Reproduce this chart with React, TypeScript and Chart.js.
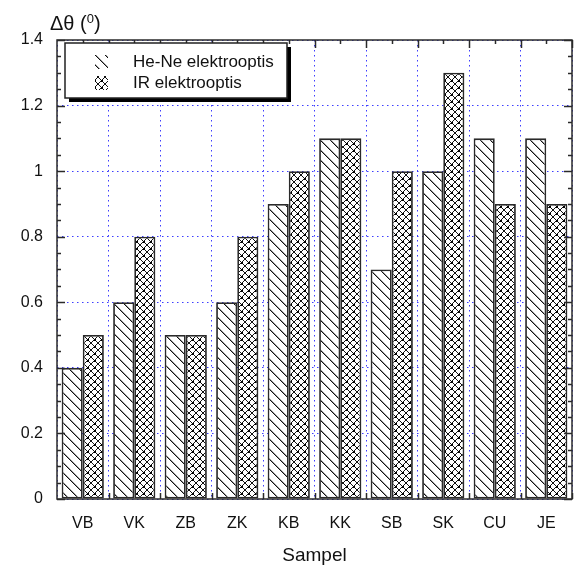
import React, { useEffect, useRef } from "react";
import { Chart, registerables } from "chart.js";
Chart.register(...registerables);

const categories = ["VB", "VK", "ZB", "ZK", "KB", "KK", "SB", "SK", "CU", "JE"];
const heNeValues = [0.4, 0.6, 0.5, 0.6, 0.9, 1.1, 0.7, 1.0, 1.1, 1.1];
const irValues = [0.5, 0.8, 0.5, 0.8, 1.0, 1.1, 1.0, 1.3, 0.9, 0.9];
const seriesLabels = ["He-Ne elektrooptis", "IR elektrooptis"];
const yMin = 0;
const yMax = 1.4;
const yStep = 0.2;
const yMinorStep = 0.05;
const yTitleMain = "Δθ (";
const yTitleSup = "0";
const yTitleEnd = ")";
const xTitle = "Sampel";

const FONT = "'Liberation Sans', Arial, sans-serif";

function makeHatch(ctx: CanvasRenderingContext2D): CanvasPattern {
  const s = 10;
  const c = document.createElement("canvas");
  c.width = s;
  c.height = s;
  const g = c.getContext("2d")!;
  g.fillStyle = "#fff";
  g.fillRect(0, 0, s, s);
  for (let i = 0; i < s; i++) {
    g.fillStyle = "#999";
    g.fillRect((i + 1) % s, i, 1, 1);
    g.fillStyle = "#111";
    g.fillRect(i, i, 1, 1);
  }
  return ctx.createPattern(c, "repeat")!;
}

function makeCross(ctx: CanvasRenderingContext2D): CanvasPattern {
  const s = 7;
  const c = document.createElement("canvas");
  c.width = s;
  c.height = s;
  const g = c.getContext("2d")!;
  g.fillStyle = "#fff";
  g.fillRect(0, 0, s, s);
  g.fillStyle = "#111";
  for (let i = 0; i < s; i++) {
    g.fillRect(i, i, 1, 1);
    g.fillRect(i, s - 1 - i, 1, 1);
  }
  g.fillStyle = "#000";
  g.fillRect(3, 3, 2, 2);
  return ctx.createPattern(c, "repeat")!;
}

export default function App() {
  const ref = useRef<HTMLCanvasElement | null>(null);

  useEffect(() => {
    const canvas = ref.current!;
    const ctx0 = canvas.getContext("2d")!;
    const hatch = makeHatch(ctx0);
    const cross = makeCross(ctx0);
    const patterns = [hatch, cross];

    const decor = {
      id: "decor",
      afterDraw(chart: any) {
        const { ctx, chartArea: a, scales } = chart;
        const y = scales.y;
        const x = scales.x;
        ctx.save();
        ctx.strokeStyle = "#2a2a2a";
        ctx.lineWidth = 1.5;
        const line = (x1: number, y1: number, x2: number, y2: number) => {
          ctx.beginPath();
          ctx.moveTo(x1, y1);
          ctx.lineTo(x2, y2);
          ctx.stroke();
        };
        const nMinor = Math.round((yMax - yMin) / yMinorStep);
        const perMajor = Math.round(yStep / yMinorStep);
        for (let i = 0; i <= nMinor; i++) {
          const v = yMin + i * yMinorStep;
          const py = Math.round(y.getPixelForValue(v)) + 0.5;
          const len = i % perMajor === 0 ? 8 : 4;
          line(a.left, py, a.left + len, py);
          line(a.right, py, a.right - len, py);
        }
        const half = (x.getPixelForValue(1) - x.getPixelForValue(0)) / 2;
        for (let i = 0; i < categories.length; i++) {
          const cx = Math.round(x.getPixelForValue(i)) + 0.5;
          line(cx, a.top, cx, a.top + 4);
          const bx = Math.round(x.getPixelForValue(i) + half) + 0.5;
          line(bx, a.top, bx, a.top + 8);
          line(bx, a.bottom, bx, a.bottom - 6);
        }
        ctx.strokeRect(a.left, a.top, a.right - a.left, a.bottom - a.top);

        // legend
        const lx = a.left + 8;
        const ly = a.top + 3;
        const lw = 222;
        const lh = 55;
        ctx.fillStyle = "#000";
        ctx.fillRect(lx + 4, ly + 4, lw, lh);
        ctx.fillStyle = "#fff";
        ctx.fillRect(lx, ly, lw, lh);
        ctx.lineWidth = 1.5;
        ctx.strokeStyle = "#222";
        ctx.strokeRect(lx, ly, lw, lh);
        ctx.font = `17px ${FONT}`;
        ctx.textBaseline = "middle";
        ctx.textAlign = "left";
        chart.data.datasets.forEach((ds: any, i: number) => {
          const cy = ly + 19 + i * 21;
          ctx.fillStyle = patterns[i];
          ctx.fillRect(lx + 30, cy - 7, 13, 14);
          ctx.fillStyle = "#111";
          ctx.fillText(ds.label, lx + 68, cy);
        });

        // y title
        ctx.fillStyle = "#111";
        ctx.textBaseline = "alphabetic";
        ctx.font = `20px ${FONT}`;
        let tx = 50;
        const ty = 30;
        ctx.fillText(yTitleMain, tx, ty);
        tx += ctx.measureText(yTitleMain).width;
        ctx.font = `13px ${FONT}`;
        ctx.fillText(yTitleSup, tx, ty - 7);
        tx += ctx.measureText(yTitleSup).width;
        ctx.font = `20px ${FONT}`;
        ctx.fillText(yTitleEnd, tx, ty);
        ctx.restore();
      },
    };

    const gridColor = "rgba(40,40,255,0.9)";
    const chart = new Chart(canvas, {
      type: "bar",
      data: {
        labels: categories,
        datasets: [
          {
            label: seriesLabels[0],
            data: heNeValues,
            backgroundColor: hatch as any,
            borderColor: "#2a2a2a",
            borderWidth: 1.8,
            borderSkipped: false,
          },
          {
            label: seriesLabels[1],
            data: irValues,
            backgroundColor: cross as any,
            borderColor: "#2a2a2a",
            borderWidth: 1.8,
            borderSkipped: false,
          },
        ],
      },
      options: {
        animation: false,
        responsive: false,
        maintainAspectRatio: false,
        datasets: { bar: { categoryPercentage: 0.82, barPercentage: 1.0 } },
        layout: { padding: { top: 40, right: 2, left: 0, bottom: 0 } },
        plugins: { legend: { display: false }, tooltip: { enabled: false } },
        scales: {
          x: {
            offset: true,
            grid: { color: gridColor, lineWidth: 1, drawTicks: false, offset: true },
            border: { display: false, dash: [1.5, 3.5] },
            ticks: { color: "#111", font: { family: FONT, size: 16 }, padding: 15 },
            title: {
              display: true,
              text: xTitle,
              color: "#111",
              font: { family: FONT, size: 19 },
              padding: { top: 4, bottom: 0 },
            },
            afterFit: (s: any) => {
              s.height = 68;
            },
          },
          y: {
            min: yMin,
            max: yMax,
            ticks: {
              stepSize: yStep,
              color: "#111",
              font: { family: FONT, size: 16 },
              padding: 14,
              callback: (v: any) => String(+Number(v).toFixed(1)),
            },
            grid: { color: gridColor, lineWidth: 1, drawTicks: false },
            border: { display: false, dash: [1.5, 3.5] },
            afterFit: (s: any) => {
              s.width = 57;
            },
          },
        },
      },
      plugins: [decor],
    });
    return () => chart.destroy();
  }, []);

  return (
    <div style={{ position: "absolute", left: 0, top: 0, width: 574, height: 567, background: "#fff" }}>
      <canvas ref={ref} width={574} height={567} style={{ display: "block" }} />
    </div>
  );
}
